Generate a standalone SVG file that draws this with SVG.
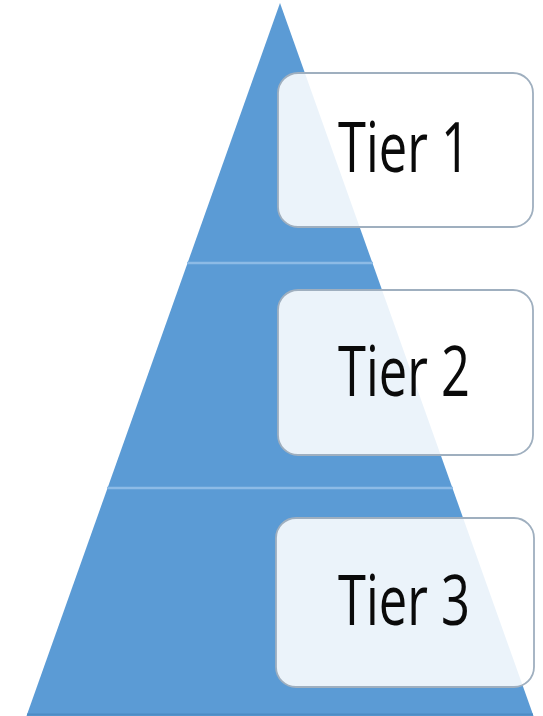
<svg xmlns="http://www.w3.org/2000/svg" width="543" height="716" viewBox="0 0 543 716">
  <style>
    .tier { fill: #5B9BD5; }
    .divider { stroke: #8DBBE6; stroke-width: 2.5; }
    .card { fill: #FFFFFF; fill-opacity: 0.88; stroke: #9FAFBF; stroke-width: 1.8; }
    .label { font-family: "Open Sans", "Noto Sans", sans-serif; font-size: 70px; fill: #0A0A0A; text-anchor: middle; }
  </style>

  <!-- pyramid -->
  <g id="pyramid">
    <polygon class="tier" points="280,3 533.5,716 26.5,716"/>
    <line class="divider" x1="187" y1="263" x2="373" y2="263"/>
    <line class="divider" x1="107" y1="488" x2="453" y2="488"/>
    <line x1="27" y1="714.5" x2="533" y2="714.5" stroke="#4F8CC4" stroke-width="2"/>
  </g>

  <g id="connectors"/>

  <!-- tier cards -->
  <g id="tier1">
    <rect class="card" x="278" y="73" width="255" height="154" rx="20"/>
    <text class="label" x="404" y="172" textLength="132" lengthAdjust="spacingAndGlyphs">Tier 1</text>
  </g>
  <g id="tier2">
    <rect class="card" x="278" y="290" width="255" height="165" rx="20"/>
    <text class="label" x="404" y="396" textLength="132" lengthAdjust="spacingAndGlyphs">Tier 2</text>
  </g>
  <g id="tier3">
    <rect class="card" x="276" y="518" width="258" height="169" rx="20"/>
    <text class="label" x="404" y="625" textLength="132" lengthAdjust="spacingAndGlyphs">Tier 3</text>
  </g>
</svg>
